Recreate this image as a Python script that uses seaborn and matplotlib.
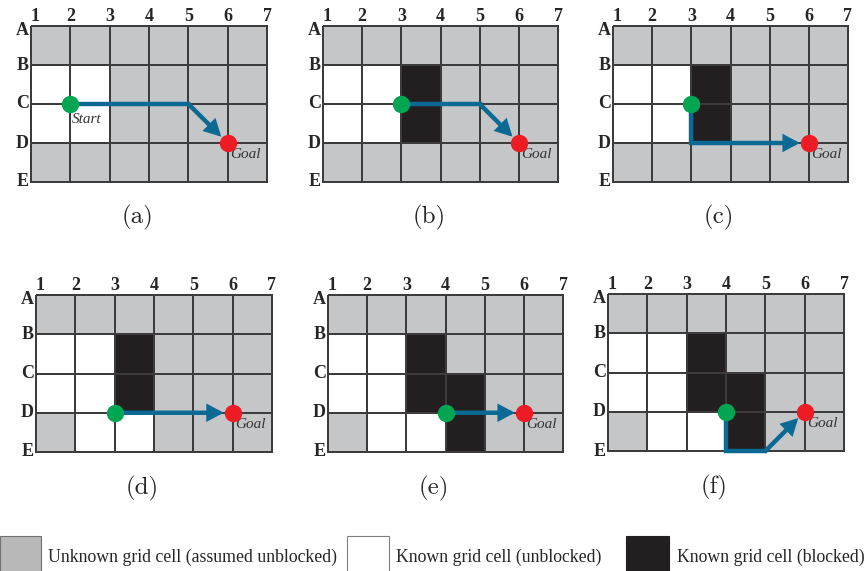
import numpy as np
import pandas as pd
import matplotlib
matplotlib.use("Agg")
import matplotlib.pyplot as plt
from matplotlib.colors import ListedColormap
from matplotlib.patches import Rectangle
from matplotlib.transforms import ScaledTranslation
import seaborn as sns

# grid labels (nodes sit on the grid line crossings)
cols = ['1', '2', '3', '4', '5', '6', '7']
rows = ['A', 'B', 'C', 'D', 'E']
panel_labels = ['(a)', '(b)', '(c)', '(d)', '(e)', '(f)']

# cell states: 0 = unknown, 1 = known unblocked, 2 = known blocked
cells_a = [[0, 0, 0, 0, 0, 0],
           [1, 1, 0, 0, 0, 0],
           [1, 1, 0, 0, 0, 0],
           [0, 0, 0, 0, 0, 0]]
cells_b = [[0, 0, 0, 0, 0, 0],
           [1, 1, 2, 0, 0, 0],
           [1, 1, 2, 0, 0, 0],
           [0, 0, 0, 0, 0, 0]]
cells_c = [[0, 0, 0, 0, 0, 0],
           [1, 1, 2, 0, 0, 0],
           [1, 1, 2, 0, 0, 0],
           [0, 0, 0, 0, 0, 0]]
cells_d = [[0, 0, 0, 0, 0, 0],
           [1, 1, 2, 0, 0, 0],
           [1, 1, 2, 0, 0, 0],
           [0, 1, 1, 0, 0, 0]]
cells_e = [[0, 0, 0, 0, 0, 0],
           [1, 1, 2, 0, 0, 0],
           [1, 1, 2, 2, 0, 0],
           [0, 1, 1, 2, 0, 0]]
cells_f = [[0, 0, 0, 0, 0, 0],
           [1, 1, 2, 0, 0, 0],
           [1, 1, 2, 2, 0, 0],
           [0, 1, 1, 2, 0, 0]]

# planned paths (start node first, goal last)
path_a = [('2', 'C'), ('5', 'C'), ('6', 'D')]
path_b = [('3', 'C'), ('5', 'C'), ('6', 'D')]
path_c = [('3', 'C'), ('3', 'D'), ('6', 'D')]
path_d = [('3', 'D'), ('6', 'D')]
path_e = [('4', 'D'), ('6', 'D')]
path_f = [('4', 'D'), ('4', 'E'), ('5', 'E'), ('6', 'D')]

legend_labels = ['Unknown grid cell (assumed unblocked)',
                 'Known grid cell (unblocked)',
                 'Known grid cell (blocked)']

all_cells = [cells_a, cells_b, cells_c, cells_d, cells_e, cells_f]
all_paths = [path_a, path_b, path_c, path_d, path_e, path_f]

GRAY = '#c5c6c8'
BLACK = '#231f20'
LINE = '#3c3c3c'
BLUE = '#0b6a94'
GREEN = '#00a651'
RED = '#ed1c24'

sns.set_style("white")
plt.rcParams['font.family'] = ['Liberation Serif', 'DejaVu Serif']

W, H = 867, 571
fig = plt.figure(figsize=(W / 100, H / 100), dpi=100)

# panel boxes in pixels: left, top, right, bottom
boxes = [(31, 26, 267, 182), (323, 26, 558, 182), (613, 26, 848, 182),
         (36, 295, 272, 452), (328, 295, 563, 452), (608, 294, 844, 451)]

cmap = ListedColormap([GRAY, 'white', BLACK])


def node(p):
    return cols.index(p[0]), rows.index(p[1])


for i, (cells, path) in enumerate(zip(all_cells, all_paths)):
    x0, y0, x1, y1 = boxes[i]
    ax = fig.add_axes([x0 / W, 1 - y1 / H, (x1 - x0) / W, (y1 - y0) / H])
    df = pd.DataFrame(cells, index=rows[:-1], columns=cols[:-1])
    sns.heatmap(df, ax=ax, cmap=cmap, vmin=-0.5, vmax=2.5, cbar=False,
                linewidths=1.3, linecolor=LINE,
                xticklabels=False, yticklabels=False)
    ax.collections[0].set_clip_on(False)

    ax.set_xticks(range(len(cols)))
    ax.set_xticklabels(cols, fontsize=13, fontweight='bold')
    ax.set_yticks(range(len(rows)))
    ax.set_yticklabels(rows, fontsize=13, fontweight='bold', va='center')
    ax.tick_params(axis='x', top=True, labeltop=True, bottom=False,
                   labelbottom=False, length=0, pad=1)
    ax.tick_params(axis='y', length=0, pad=1.5)
    ax.set_xlabel('')
    ax.set_ylabel('')
    # corner labels: "1" sits right of the first line, "A" a bit lower
    ax.get_xticklabels()[0].set_ha('left')
    lab_a = ax.get_yticklabels()[0]
    lab_a.set_transform(lab_a.get_transform() + ScaledTranslation(0, -3 / 72, fig.dpi_scale_trans))

    pts = [node(p) for p in path]
    xs = [p[0] for p in pts]
    ys = [p[1] for p in pts]
    ax.plot(xs[:-1], ys[:-1], color=BLUE, lw=3.2, solid_capstyle='projecting',
            solid_joinstyle='miter', clip_on=False, zorder=3)
    ax.annotate('', xy=pts[-1], xytext=pts[-2],
                arrowprops=dict(arrowstyle='-|>,head_length=0.75,head_width=0.4',
                                color=BLUE, lw=3.2, shrinkA=0, shrinkB=6.5,
                                joinstyle='miter'),
                zorder=3, annotation_clip=False)

    ax.plot(*pts[0], 'o', ms=11.5, color=GREEN, clip_on=False, zorder=5)
    ax.plot(*pts[-1], 'o', ms=11.5, color=RED, clip_on=False, zorder=5)

    if i == 0:
        ax.annotate('Start', xy=pts[0], xytext=(1, -6.5), textcoords='offset points',
                    ha='left', va='top', style='italic', fontsize=11, color='#333333')
    ax.annotate('Goal', xy=pts[-1], xytext=(1.5, -3.5), textcoords='offset points',
                ha='left', va='top', style='italic', fontsize=11, color='#333333')

    ax.text(0.45, -0.23, panel_labels[i], transform=ax.transAxes, ha='center',
            va='center', fontsize=18, family='cmr10')

# legend along the bottom
swatches = [(0, 41, '#b8b8b8', '#707070'), (347, 389, 'white', '#808080'),
            (626, 669, BLACK, BLACK)]
text_x = [48, 396, 677]
for (sx0, sx1, fc, ec), tx, lab in zip(swatches, text_x, legend_labels):
    fig.add_artist(Rectangle((sx0 / W, -0.01), (sx1 - sx0) / W, (571 - 536) / H + 0.01,
                             transform=fig.transFigure, facecolor=fc,
                             edgecolor=ec, lw=0.8))
    fig.text(tx / W, 1 - 562 / H, lab, fontsize=12.8, va='baseline', ha='left')

fig.savefig("out.png", dpi=100)
